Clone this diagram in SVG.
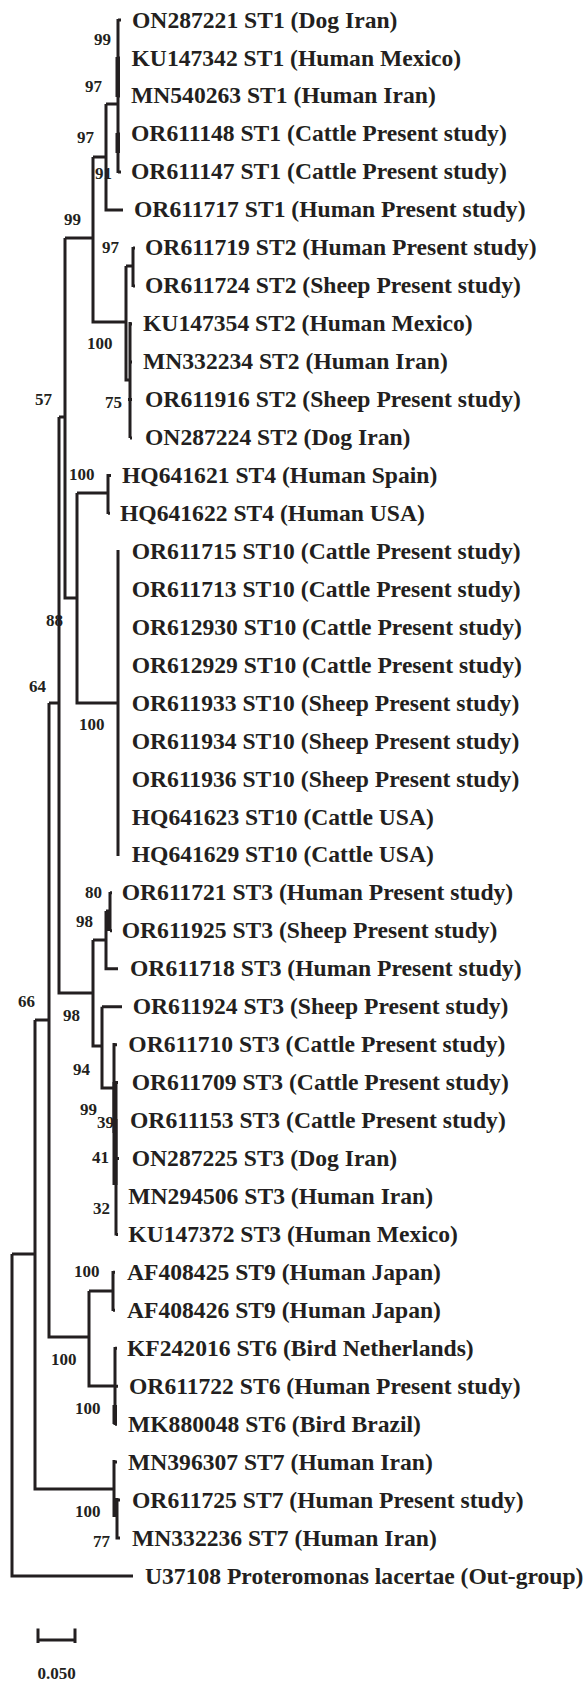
<svg xmlns="http://www.w3.org/2000/svg" width="584" height="1681" viewBox="0 0 584 1681">
<style>
.b{fill:none;stroke:#231f20;stroke-width:3;stroke-linejoin:miter;stroke-linecap:butt}
.k{fill:#231f20}
.lf{font-family:"Liberation Serif","Times New Roman",serif;font-weight:bold;font-size:23.6px;fill:#231f20}
.bs{font-family:"Liberation Serif","Times New Roman",serif;font-weight:bold;font-size:17px;fill:#231f20}
</style>
<rect width="584" height="1681" fill="#ffffff"/>
<g id="connectors">
<path class="b" d="M118 19V173M118 20H121M118 58H120M118 96H120M118 134H120M118 172H121"/>
<rect class="k" x="115.5" y="57" width="4.5" height="40"/>
<rect class="k" x="115.5" y="133" width="4.5" height="20"/>
<path class="b" d="M106 104H118M106 104V210H123"/>
<path class="b" d="M93 157H106M93 157V322H126"/>
<path class="b" d="M65 238H93"/>
<path class="b" d="M126 266H133M133 247V287M133 248H135M133 286H135"/>
<path class="b" d="M126 266V380H130M130 322V438M130 438H132M128 399.5H132M130 324H132M130 362H132"/>
<path class="b" d="M65 238V598H77"/>
<path class="b" d="M59 417H65"/>
<path class="b" d="M77 493H108M108 474V514M108 475.4H111M108 513.3H110"/>
<path class="b" d="M77 493V703H118M118 550V856"/>
<path class="b" d="M59 417V993H93"/>
<path class="b" d="M49 703H59"/>
<path class="b" d="M93 940H106M106 911V968.75H118M106 911H110M110 892V931M110 892.85H112M110 930.8H112"/>
<rect class="k" x="106" y="910" width="5" height="21"/>
<path class="b" d="M93 940V1046H102M102 1006.7H122M102 1006.7V1088H114"/>
<path class="b" d="M114 1043V1133M114 1044.65H117M114 1082.6H118M116 1119V1235.5M116 1158.5H119M116 1234.4H118"/>
<rect class="k" x="112.5" y="1082" width="5" height="103"/>
<path class="b" d="M49 703V1337H89"/>
<path class="b" d="M35 1020H49"/>
<path class="b" d="M89 1291H113M113 1271V1311M113 1272.35H115M113 1310.3H115"/>
<path class="b" d="M89 1291V1386H115M115 1347V1425M115 1386.2H118M115 1348.25H117M115 1424.15H117"/>
<rect class="k" x="112.5" y="1405" width="4.5" height="19"/>
<path class="b" d="M35 1020V1489H114M114 1460V1517M114 1462.1H117M117 1498V1539.5M117 1500H120M117 1538H120"/>
<path class="b" d="M12 1254H35M12 1254V1576H133"/>
</g>
<g id="leaves">
<g id="n0"><text class="lf" x="132" y="27.5">ON287221 ST1 (Dog Iran)</text></g>
<g id="n1"><text class="lf" x="131.5" y="65.5">KU147342 ST1 (Human Mexico)</text></g>
<g id="n2"><text class="lf" x="131" y="103.4">MN540263 ST1 (Human Iran)</text></g>
<g id="n3"><text class="lf" x="131" y="141.4">OR611148 ST1 (Cattle Present study)</text></g>
<g id="n4"><text class="lf" x="131" y="179.3">OR611147 ST1 (Cattle Present study)</text></g>
<g id="n5"><text class="lf" x="134" y="217.3">OR611717 ST1 (Human Present study)</text></g>
<g id="n6"><text class="lf" x="145" y="255.2">OR611719 ST2 (Human Present study)</text></g>
<g id="n7"><text class="lf" x="145" y="293.2">OR611724 ST2 (Sheep Present study)</text></g>
<g id="n8"><text class="lf" x="143" y="331.1">KU147354 ST2 (Human Mexico)</text></g>
<g id="n9"><text class="lf" x="143" y="369.1">MN332234 ST2 (Human Iran)</text></g>
<g id="n10"><text class="lf" x="145" y="407">OR611916 ST2 (Sheep Present study)</text></g>
<g id="n11"><text class="lf" x="145" y="445">ON287224 ST2 (Dog Iran)</text></g>
<g id="n12"><text class="lf" x="122" y="482.9">HQ641621 ST4 (Human Spain)</text></g>
<g id="n13"><text class="lf" x="120" y="520.9">HQ641622 ST4 (Human USA)</text></g>
<g id="n14"><text class="lf" x="131.7" y="558.8">OR611715 ST10 (Cattle Present study)</text></g>
<g id="n15"><text class="lf" x="131.7" y="596.8">OR611713 ST10 (Cattle Present study)</text></g>
<g id="n16"><text class="lf" x="131.7" y="634.7">OR612930 ST10 (Cattle Present study)</text></g>
<g id="n17"><text class="lf" x="131.7" y="672.7">OR612929 ST10 (Cattle Present study)</text></g>
<g id="n18"><text class="lf" x="131.7" y="710.6">OR611933 ST10 (Sheep Present study)</text></g>
<g id="n19"><text class="lf" x="131.7" y="748.6">OR611934 ST10 (Sheep Present study)</text></g>
<g id="n20"><text class="lf" x="131.7" y="786.5">OR611936 ST10 (Sheep Present study)</text></g>
<g id="n21"><text class="lf" x="131.7" y="824.5">HQ641623 ST10 (Cattle USA)</text></g>
<g id="n22"><text class="lf" x="131.7" y="862.4">HQ641629 ST10 (Cattle USA)</text></g>
<g id="n23"><text class="lf" x="121.7" y="900.4">OR611721 ST3 (Human Present study)</text></g>
<g id="n24"><text class="lf" x="121.7" y="938.3">OR611925 ST3 (Sheep Present study)</text></g>
<g id="n25"><text class="lf" x="130" y="976.3">OR611718 ST3 (Human Present study)</text></g>
<g id="n26"><text class="lf" x="132.7" y="1014.2">OR611924 ST3 (Sheep Present study)</text></g>
<g id="n27"><text class="lf" x="128.3" y="1052.2">OR611710 ST3 (Cattle Present study)</text></g>
<g id="n28"><text class="lf" x="131.7" y="1090.1">OR611709 ST3 (Cattle Present study)</text></g>
<g id="n29"><text class="lf" x="130" y="1128.1">OR611153 ST3 (Cattle Present study)</text></g>
<g id="n30"><text class="lf" x="131.7" y="1166">ON287225 ST3 (Dog Iran)</text></g>
<g id="n31"><text class="lf" x="128.3" y="1204">MN294506 ST3 (Human Iran)</text></g>
<g id="n32"><text class="lf" x="128.3" y="1241.9">KU147372 ST3 (Human Mexico)</text></g>
<g id="n33"><text class="lf" x="127" y="1279.9">AF408425 ST9 (Human Japan)</text></g>
<g id="n34"><text class="lf" x="127" y="1317.8">AF408426 ST9 (Human Japan)</text></g>
<g id="n35"><text class="lf" x="127" y="1355.8">KF242016 ST6 (Bird Netherlands)</text></g>
<g id="n36"><text class="lf" x="129" y="1393.7">OR611722 ST6 (Human Present study)</text></g>
<g id="n37"><text class="lf" x="128" y="1431.7">MK880048 ST6 (Bird Brazil)</text></g>
<g id="n38"><text class="lf" x="128" y="1469.6">MN396307 ST7 (Human Iran)</text></g>
<g id="n39"><text class="lf" x="132" y="1507.6">OR611725 ST7 (Human Present study)</text></g>
<g id="n40"><text class="lf" x="132" y="1545.5">MN332236 ST7 (Human Iran)</text></g>
<g id="n41"><text class="lf" x="145" y="1583.5">U37108 Proteromonas lacertae (Out-group)</text></g>
</g>
<g id="support">
<text class="bs" x="94" y="45">99</text>
<text class="bs" x="85" y="92">97</text>
<text class="bs" x="77" y="143">97</text>
<text class="bs" x="95" y="179">91</text>
<text class="bs" x="64" y="225">99</text>
<text class="bs" x="102" y="253">97</text>
<text class="bs" x="87" y="349">100</text>
<text class="bs" x="105" y="408">75</text>
<text class="bs" x="35" y="405">57</text>
<text class="bs" x="69" y="480">100</text>
<text class="bs" x="46" y="626">88</text>
<text class="bs" x="29" y="692">64</text>
<text class="bs" x="79" y="730">100</text>
<text class="bs" x="85" y="898">80</text>
<text class="bs" x="76" y="927">98</text>
<text class="bs" x="18" y="1007">66</text>
<text class="bs" x="63" y="1021">98</text>
<text class="bs" x="73" y="1075">94</text>
<text class="bs" x="80" y="1115">99</text>
<text class="bs" x="97" y="1128">39</text>
<text class="bs" x="92" y="1163">41</text>
<text class="bs" x="93" y="1214">32</text>
<text class="bs" x="74" y="1277">100</text>
<text class="bs" x="51" y="1365">100</text>
<text class="bs" x="75" y="1414">100</text>
<text class="bs" x="75" y="1517">100</text>
<text class="bs" x="93" y="1547">77</text>
</g>
<g id="scale">
<path class="b" d="M38 1640H75M38 1628.5V1643M75 1628.5V1643"/>
<text class="bs" x="56.5" y="1679" text-anchor="middle">0.050</text>
</g>
</svg>
